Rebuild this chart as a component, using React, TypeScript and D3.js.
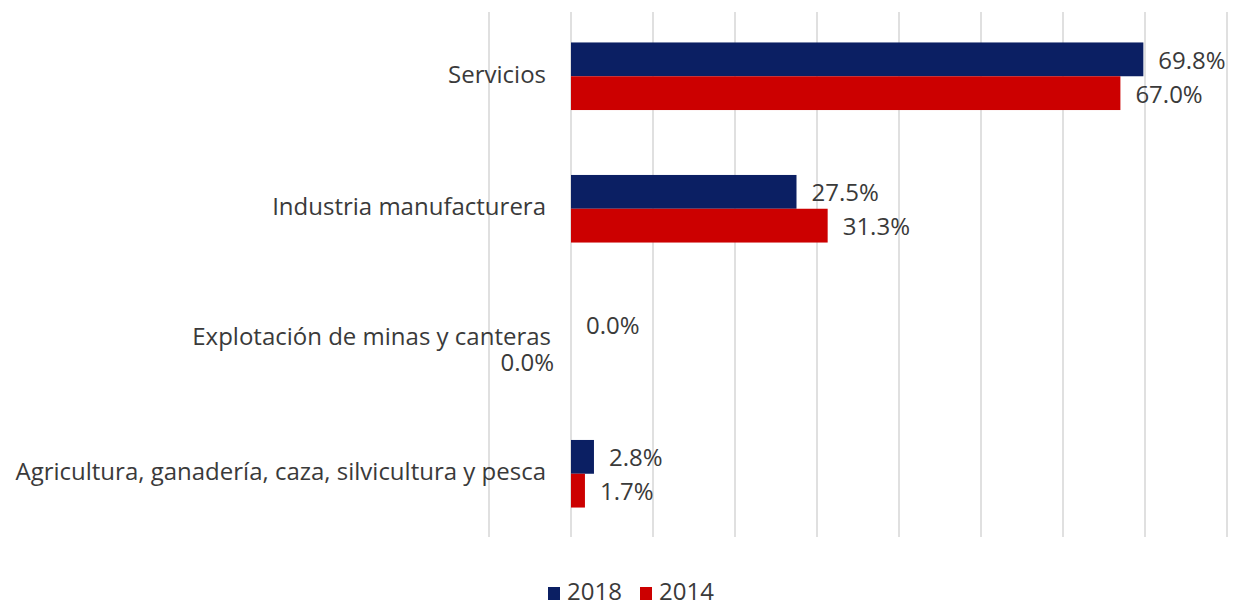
import React from "react";
import * as d3 from "d3";

const categories = [
  "Servicios",
  "Industria manufacturera",
  "Explotación de minas y canteras",
  "Agricultura, ganadería, caza, silvicultura y pesca",
];
const series2018 = [69.8, 27.5, 0.0, 2.8];
const series2014 = [67.0, 31.3, 0.0, 1.7];
const seriesNames = ["2018", "2014"];
const gridTicks = [-10, 0, 10, 20, 30, 40, 50, 60, 70, 80];

const W = 1239;
const H = 608;
const NAVY = "#0b1f63";
const RED = "#cc0000";
const FONT = "'Open Sans', sans-serif";
const TXT = "#3a3a3a";

export default function App() {
  const x = d3.scaleLinear().domain([-10, 80]).range([489, 1227]);
  const y = d3
    .scaleBand<string>()
    .domain(categories)
    .range([10, 540])
    .paddingInner(0.49)
    .paddingOuter(0.245);
  const sub = d3
    .scaleBand<string>()
    .domain(seriesNames)
    .range([0, y.bandwidth()]);
  const series = [
    { name: "2018", values: series2018, color: NAVY },
    { name: "2014", values: series2014, color: RED },
  ];
  const fmt = (v: number) => v.toFixed(1) + "%";

  return (
    <svg
      width={W}
      height={H}
      style={{ position: "absolute", left: 0, top: 0, background: "#fff" }}
      fontFamily={FONT}
    >
      <rect width={W} height={H} fill="#fff" />
      {gridTicks.map((t) => (
        <line
          key={t}
          x1={x(t)}
          x2={x(t)}
          y1={12}
          y2={537}
          stroke="#d9d9d9"
          strokeWidth={1.6}
        />
      ))}
      {series.map((s) =>
        categories.map((c, i) => {
          const v = s.values[i];
          const y0 = (y(c) as number) + (sub(s.name) as number);
          const bh = sub.bandwidth();
          return (
            <rect
              key={s.name + c}
              x={x(0)}
              y={y0}
              width={x(v) - x(0)}
              height={bh}
              fill={s.color}
            />
          );
        })
      )}
      {series.map((s) =>
        categories.map((c, i) => {
          const v = s.values[i];
          const y0 = (y(c) as number) + (sub(s.name) as number);
          const bh = sub.bandwidth();
          const zeroLeft = v === 0 && s.name === "2014";
          return (
            <text
              key={"l" + s.name + c}
              x={zeroLeft ? x(0) - 17 : x(v) + 15}
              y={y0 + bh / 2 + (zeroLeft ? 6 : 3)}
              textAnchor={zeroLeft ? "end" : "start"}
              dominantBaseline="middle"
              fontSize={24}
              fill={TXT}
            >
              {fmt(v)}
            </text>
          );
        })
      )}
      {categories.map((c, i) => (
        <text
          key={"c" + c}
          x={i === 2 ? 551 : 546}
          y={(y(c) as number) + y.bandwidth() / 2 - (i === 2 ? 3 : 0)}
          textAnchor="end"
          dominantBaseline="middle"
          fontSize={24}
          fill={TXT}
        >
          {c}
        </text>
      ))}
      {series.map((s, i) => {
        const lx = 548 + i * 92;
        return (
          <g key={"leg" + s.name}>
            <rect x={lx} y={587} width={12} height={13} fill={s.color} />
            <text
              x={lx + 19}
              y={594}
              dominantBaseline="middle"
              fontSize={24}
              fill={TXT}
            >
              {s.name}
            </text>
          </g>
        );
      })}
    </svg>
  );
}
